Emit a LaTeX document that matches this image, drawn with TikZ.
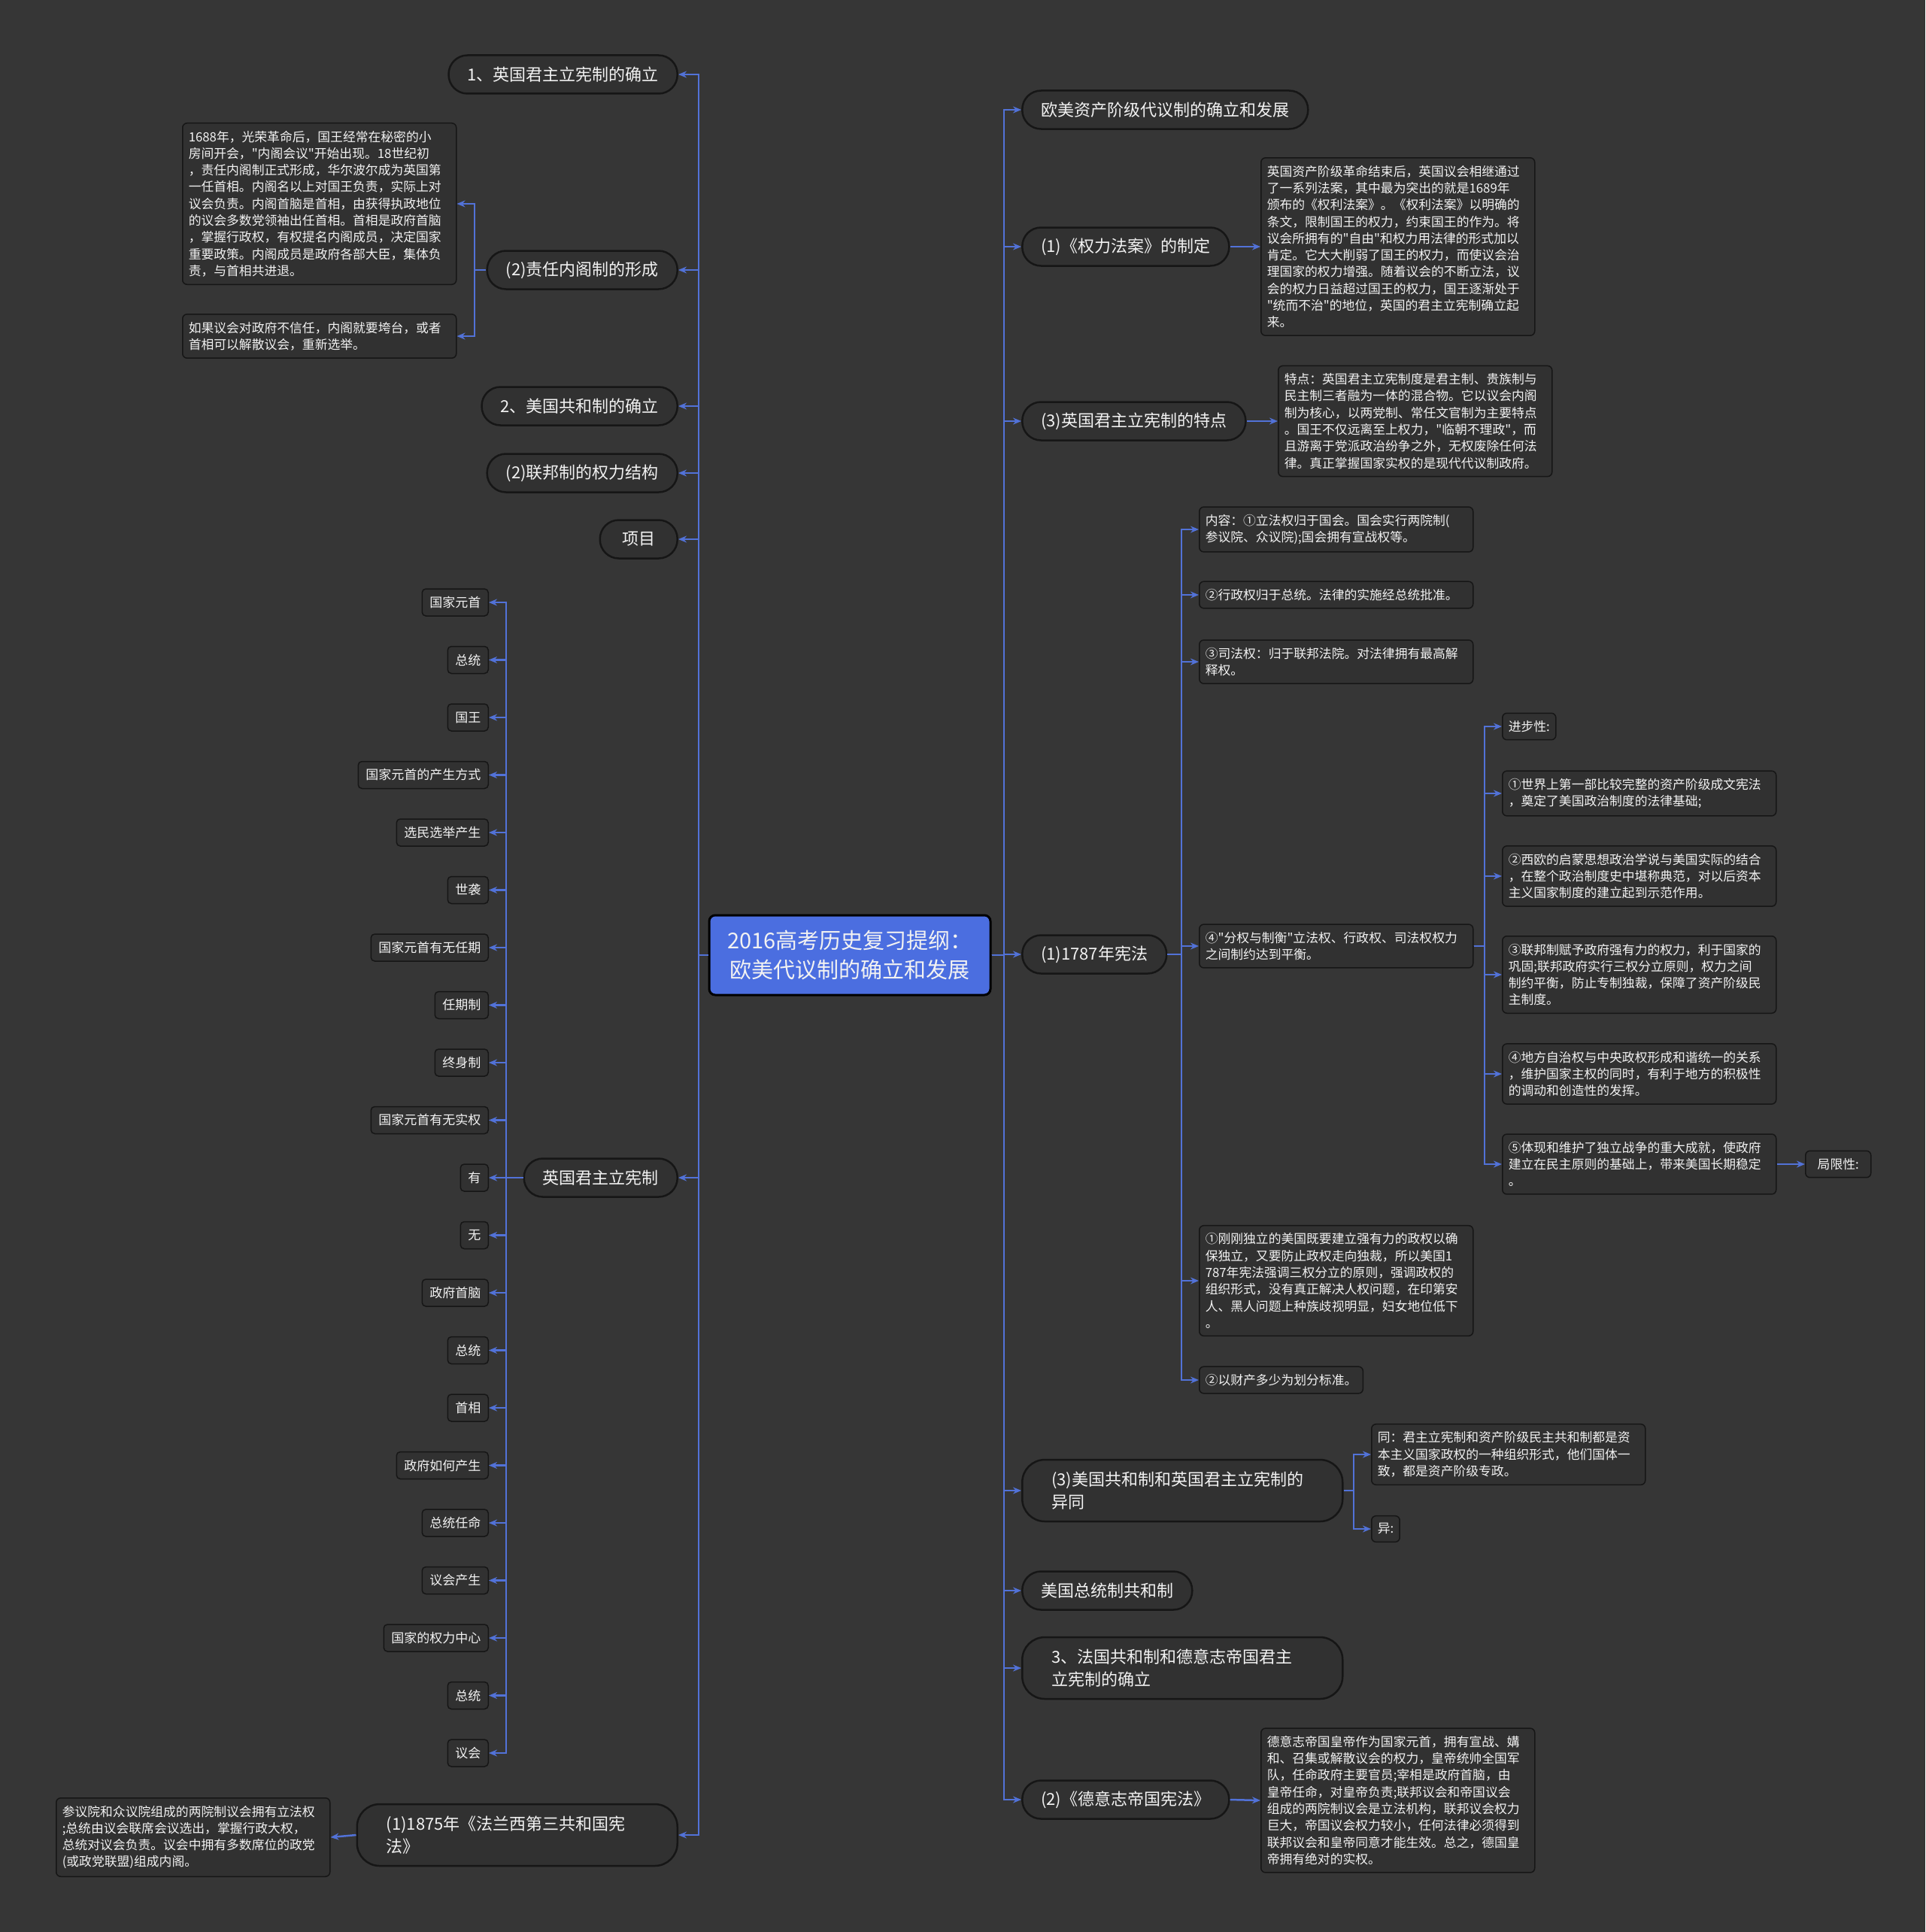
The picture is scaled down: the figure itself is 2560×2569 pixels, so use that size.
\documentclass[tikz,border=0pt]{standalone}
\usepackage{fontspec}
\setmainfont{Noto Sans CJK SC}
\newfontfamily\cjkf{Noto Sans CJK SC}
\usetikzlibrary{arrows.meta}
\definecolor{bgc}{HTML}{363636}
\definecolor{nodefill}{HTML}{313131}
\definecolor{nodeline}{HTML}{161616}
\definecolor{linec}{HTML}{5272D8}
\definecolor{rootfill}{HTML}{4B6EE0}
\definecolor{txt}{HTML}{F2F2F2}
\newcommand{\fsText}{\cjkf\fontsize{16.8}{22.3}\selectfont}
\newcommand{\fsLeaf}{\cjkf\fontsize{17}{22}\selectfont}
\newcommand{\fsPill}{\cjkf\fontsize{22}{30}\selectfont}
\newcommand{\fsRoot}{\cjkf\fontsize{29}{39}\selectfont}
\begin{document}
\begin{tikzpicture}[x=1pt,y=-1pt,
  conn/.style={draw=linec, line width=2.5pt, -{Stealth[length=11pt,width=9pt]}},
  pill/.style={draw=nodeline, line width=2.5pt, fill=nodefill, rounded corners=25pt, minimum height=51pt, inner xsep=25pt, inner ysep=0pt, text=txt, font=\fsPill},
  pilltwo/.style={pill, text width=348pt, align=left, inner xsep=39pt, minimum height=82pt, rounded corners=30pt},
  tbox/.style={draw=nodeline, line width=1.5pt, fill=nodefill, rounded corners=6pt, text width=348pt, align=left, inner xsep=8pt, inner ysep=10pt, text=txt, font=\fsText},
  sbox/.style={draw=nodeline, line width=1.5pt, fill=nodefill, rounded corners=6pt, inner xsep=8pt, inner ysep=10pt, text=txt, font=\fsText},
  leaf/.style={draw=nodeline, line width=1.5pt, fill=nodefill, rounded corners=5pt, inner xsep=10pt, inner ysep=0pt, minimum height=36pt, text=txt, font=\fsLeaf},
]
\fill[bgc] (0,0) rectangle (2560,2569);
\useasboundingbox (0,0) rectangle (2560,2569);

\coordinate (tL) at (929,0);
\coordinate (tR) at (1335,0);
\coordinate (tL2) at (631,0);
\coordinate (tLeaf) at (673,0);
\coordinate (tR4) at (1571,0);
\coordinate (tC4) at (1974,0);
\coordinate (tR5) at (1800,0);

% root
\node[draw=black, line width=3pt, fill=rootfill, rounded corners=8pt, minimum width=374pt, minimum height=106pt, align=center, text=txt, font=\fsRoot] (root) at (1130,1270) {2016高考历史复习提纲：\\欧美代议制的确立和发展};

% left side
\node[pill, anchor=east] (l1) at (902,99) {1、英国君主立宪制的确立};
\node[pill, anchor=east] (l2) at (902,359) {(2)责任内阁制的形成};
\node[tbox, anchor=west] (la) at (242,271) {1688年，光荣革命后，国王经常在秘密的小\\房间开会，"内阁会议"开始出现。18世纪初\\，责任内阁制正式形成，华尔波尔成为英国第\\一任首相。内阁名以上对国王负责，实际上对\\议会负责。内阁首脑是首相，由获得执政地位\\的议会多数党领袖出任首相。首相是政府首脑\\，掌握行政权，有权提名内阁成员，决定国家\\重要政策。内阁成员是政府各部大臣，集体负\\责，与首相共进退。};
\node[tbox, anchor=west] (lb) at (242,447) {如果议会对政府不信任，内阁就要垮台，或者\\首相可以解散议会，重新选举。};
\node[pill, anchor=east] (l3) at (902,540) {2、美国共和制的确立};
\node[pill, anchor=east] (l4) at (902,629) {(2)联邦制的权力结构};
\node[pill, anchor=east, minimum width=103pt] (l5) at (902,717) {项目};
\node[pill, anchor=east] (l6) at (902,1566) {英国君主立宪制};
\node[pilltwo, anchor=east] (l7) at (902,2440) {(1)1875年《法兰西第三共和国宪\\法》};
\node[tbox, anchor=west] (lc) at (74,2443) {参议院和众议院组成的两院制议会拥有立法权\\;总统由议会联席会议选出，掌握行政大权，\\总统对议会负责。议会中拥有多数席位的政党\\(或政党联盟)组成内阁。};

\foreach \t [count=\i from 0] in {国家元首,总统,国王,国家元首的产生方式,选民选举产生,世袭,国家元首有无任期,任期制,终身制,国家元首有无实权,有,无,政府首脑,总统,首相,政府如何产生,总统任命,议会产生,国家的权力中心,总统,议会}{
  \node[leaf, anchor=east] (lf\i) at (650,801+76.5*\i) {\t};
  \draw[conn] (l6.west) -- (l6.west -| tLeaf) |- (lf\i.east);
}

% right side
\node[pill, anchor=west] (r1) at (1358,146) {欧美资产阶级代议制的确立和发展};
\node[pill, anchor=west] (r2) at (1358,328) {(1)《权力法案》的制定};
\node[tbox, anchor=west] (r2t) at (1676,328) {英国资产阶级革命结束后，英国议会相继通过\\了一系列法案，其中最为突出的就是1689年\\颁布的《权利法案》。《权利法案》以明确的\\条文，限制国王的权力，约束国王的作为。将\\议会所拥有的"自由"和权力用法律的形式加以\\肯定。它大大削弱了国王的权力，而使议会治\\理国家的权力增强。随着议会的不断立法，议\\会的权力日益超过国王的权力，国王逐渐处于\\"统而不治"的地位，英国的君主立宪制确立起\\来。};
\node[pill, anchor=west] (r3) at (1358,560) {(3)英国君主立宪制的特点};
\node[tbox, anchor=west] (r3t) at (1699,560) {特点：英国君主立宪制度是君主制、贵族制与\\民主制三者融为一体的混合物。它以议会内阁\\制为核心，以两党制、常任文官制为主要特点\\。国王不仅远离至上权力，"临朝不理政"，而\\且游离于党派政治纷争之外，无权废除任何法\\律。真正掌握国家实权的是现代代议制政府。};
\node[pill, anchor=west] (r4) at (1358,1269) {(1)1787年宪法};
\node[tbox, anchor=west] (c1) at (1594,704) {内容：①立法权归于国会。国会实行两院制(\\参议院、众议院);国会拥有宣战权等。};
\node[tbox, anchor=west] (c2) at (1594,791) {②行政权归于总统。法律的实施经总统批准。};
\node[tbox, anchor=west] (c3) at (1594,880) {③司法权：归于联邦法院。对法律拥有最高解\\释权。};
\node[tbox, anchor=west] (c4) at (1594,1258) {④"分权与制衡"立法权、行政权、司法权权力\\之间制约达到平衡。};
\node[tbox, anchor=west] (c5) at (1594,1703) {①刚刚独立的美国既要建立强有力的政权以确\\保独立，又要防止政权走向独裁，所以美国1\\787年宪法强调三权分立的原则，强调政权的\\组织形式，没有真正解决人权问题，在印第安\\人、黑人问题上种族歧视明显，妇女地位低下\\。};
\node[sbox, anchor=west] (c6) at (1594,1835) {②以财产多少为划分标准。};

\node[sbox, anchor=west] (d0) at (1997,966) {进步性:};
\node[tbox, anchor=west] (d1) at (1997,1055) {①世界上第一部比较完整的资产阶级成文宪法\\，奠定了美国政治制度的法律基础;};
\node[tbox, anchor=west] (d2) at (1997,1165) {②西欧的启蒙思想政治学说与美国实际的结合\\，在整个政治制度史中堪称典范，对以后资本\\主义国家制度的建立起到示范作用。};
\node[tbox, anchor=west] (d3) at (1997,1296) {③联邦制赋予政府强有力的权力，利于国家的\\巩固;联邦政府实行三权分立原则，权力之间\\制约平衡，防止专制独裁，保障了资产阶级民\\主制度。};
\node[tbox, anchor=west] (d4) at (1997,1428) {④地方自治权与中央政权形成和谐统一的关系\\，维护国家主权的同时，有利于地方的积极性\\的调动和创造性的发挥。};
\node[tbox, anchor=west] (d5) at (1997,1548) {⑤体现和维护了独立战争的重大成就，使政府\\建立在民主原则的基础上，带来美国长期稳定\\。};
\node[sbox, anchor=west, minimum width=87pt] (lim) at (2400,1548) {局限性:};

\node[pilltwo, anchor=west] (r5) at (1358,1982) {(3)美国共和制和英国君主立宪制的\\异同};
\node[tbox, anchor=west] (same) at (1823,1934) {同：君主立宪制和资产阶级民主共和制都是资\\本主义国家政权的一种组织形式，他们国体一\\致，都是资产阶级专政。};
\node[sbox, anchor=west] (diff) at (1823,2033) {异:};
\node[pill, anchor=west] (r6) at (1358,2115) {美国总统制共和制};
\node[pilltwo, anchor=west] (r7) at (1358,2218) {3、法国共和制和德意志帝国君主\\立宪制的确立};
\node[pill, anchor=west] (r8) at (1358,2393) {(2)《德意志帝国宪法》};
\node[tbox, anchor=west] (r8t) at (1676,2394) {德意志帝国皇帝作为国家元首，拥有宣战、媾\\和、召集或解散议会的权力，皇帝统帅全国军\\队，任命政府主要官员;宰相是政府首脑，由\\皇帝任命，对皇帝负责;联邦议会和帝国议会\\组成的两院制议会是立法机构，联邦议会权力\\巨大，帝国议会权力较小，任何法律必须得到\\联邦议会和皇帝同意才能生效。总之，德国皇\\帝拥有绝对的实权。};

% connectors left
\foreach \n in {l1,l2,l3,l4,l5,l6,l7}{
  \draw[conn] (root.west) -- (root.west -| tL) |- (\n.east);
}
\draw[conn] (l2.west) -- (l2.west -| tL2) |- (la.east);
\draw[conn] (l2.west) -- (l2.west -| tL2) |- (lb.east);
\draw[conn] (l7.west) -- (lc.east);

% connectors right
\foreach \n in {r1,r2,r3,r4,r5,r6,r7,r8}{
  \draw[conn] (root.east) -- (root.east -| tR) |- (\n.west);
}
\draw[conn] (r2.east) -- (r2t.west);
\draw[conn] (r3.east) -- (r3t.west);
\draw[conn] (r8.east) -- (r8t.west);
\foreach \n in {c1,c2,c3,c4,c5,c6}{
  \draw[conn] (r4.east) -- (r4.east -| tR4) |- (\n.west);
}
\foreach \n in {d0,d1,d2,d3,d4,d5}{
  \draw[conn] (c4.east) -- (c4.east -| tC4) |- (\n.west);
}
\draw[conn] (d5.east) -- (lim.west);
\draw[conn] (r5.east) -- (r5.east -| tR5) |- (same.west);
\draw[conn] (r5.east) -- (r5.east -| tR5) |- (diff.west);
\end{tikzpicture}
\end{document}
